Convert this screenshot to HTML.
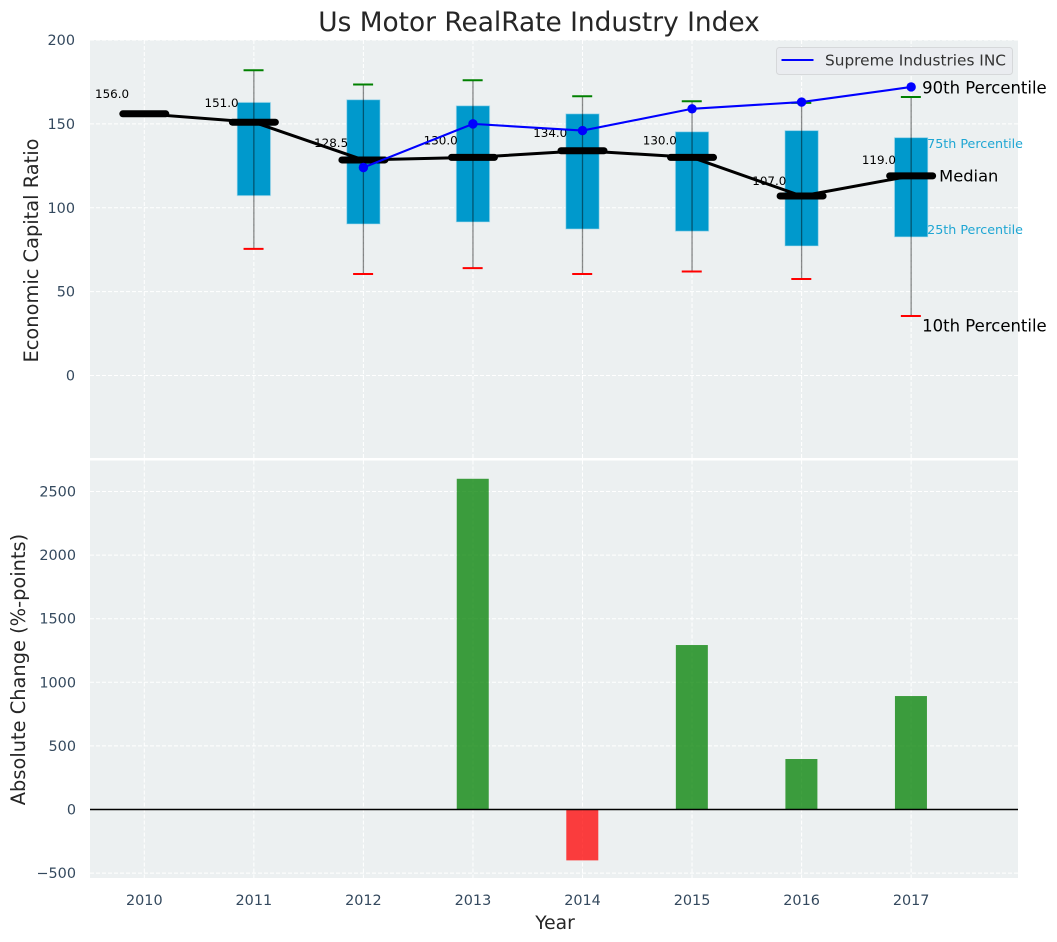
<!DOCTYPE html>
<html lang="en">
<head>
<meta charset="utf-8">
<title>Us Motor RealRate Industry Index</title>
<style>
html,body{margin:0;padding:0;background:#fff;width:1057px;height:942px;overflow:hidden}
svg{display:block;font-family:"DejaVu Sans","Liberation Sans",sans-serif}
</style>
</head>
<body>
<svg id="chart" xmlns="http://www.w3.org/2000/svg" width="1057" height="942" viewBox="0 0 1057 942">
  <rect x="90" y="40" width="928" height="418" fill="#ecf0f1"/>
  <rect x="90" y="460.5" width="928" height="417.5" fill="#ecf0f1"/>
  <g id="grid"></g>
  <g id="boxes"></g>
  <g id="lines"></g>
  <g id="bars"></g>
  <g id="ticks"></g>
  <text x="539" y="31" text-anchor="middle" font-size="26.4px" fill="#262626">Us Motor RealRate Industry Index</text>
  <text transform="translate(38,250.5) rotate(-90)" text-anchor="middle" font-size="19.4px" fill="#262626">Economic Capital Ratio</text>
  <text transform="translate(25,669.5) rotate(-90)" text-anchor="middle" font-size="19.4px" fill="#262626">Absolute Change (%-points)</text>
  <text x="555" y="929" text-anchor="middle" font-size="18.7px" fill="#262626">Year</text>
  <g>
    <rect x="776.5" y="47.5" width="236" height="27" rx="3" fill="#eaecf0" stroke="#d6d8da" stroke-width="1"/>
    <line x1="781.5" y1="60" x2="813.5" y2="60" stroke="#0000ff" stroke-width="2"/>
    <text x="825" y="65.5" font-size="15.3px" fill="#333333" textLength="181" lengthAdjust="spacingAndGlyphs">Supreme Industries INC</text>
  </g>
  <g id="annotations"></g>
</svg>
<script>
var years = [2010, 2011, 2012, 2013, 2014, 2015, 2016, 2017];
var median = [156, 151, 128.5, 130, 134, 130, 107, 119];
var p90 = [null, 182, 173.5, 176, 166.5, 163.5, 162.5, 166];
var p75 = [null, 162.8, 164.4, 160.8, 156, 145.3, 146, 141.8];
var p25 = [null, 107.2, 90.3, 91.5, 87.3, 86, 77.2, 82.6];
var p10 = [null, 75.5, 60.5, 64, 60.5, 62, 57.5, 35.5];
var company = [null, null, 124, 150, 146, 159, 163, 172];
var change = [null, null, null, 2600, -400, 1293, 397, 892];
var topTicks = [0, 50, 100, 150, 200];
var bottomTicks = [-500, 0, 500, 1000, 1500, 2000, 2500];

var NS = 'http://www.w3.org/2000/svg';
function xS(v) { return 144.3 + (v - 2010) * 109.55; }
function yT(v) { return 375.5 - v * 1.6775; }
function yB(v) { return 809.5 - v * 0.1272; }
function mk(parent, tag, attrs, text) {
  var el = document.createElementNS(NS, tag);
  for (var k in attrs) el.setAttribute(k, attrs[k]);
  if (text !== undefined) el.textContent = text;
  document.getElementById(parent).appendChild(el);
  return el;
}
var e, i;
var gridAttrs = { stroke: '#ffffff', 'stroke-width': 1, 'stroke-dasharray': '4 2', fill: 'none' };
function gridLine(x1, y1, x2, y2, name) {
  var a = { x1: x1, y1: y1, x2: x2, y2: y2 };
  for (var k in gridAttrs) a[k] = gridAttrs[k];
  var g = mk('grid', 'line', a);
  
  
}
years.forEach(function (yr) {
  gridLine(xS(yr), 40, xS(yr), 458, 'top-vertical-gridline');
  gridLine(xS(yr), 460.5, xS(yr), 878, 'bottom-vertical-gridline');
  var t = mk('ticks', 'text', { x: xS(yr), y: 905, 'text-anchor': 'middle', 'font-size': '14.4px', fill: '#34495e' }, String(yr));
  
  
});
topTicks.forEach(function (v) {
  gridLine(90, yT(v), 1018, yT(v), 'top-horizontal-gridline');
  var t = mk('ticks', 'text', { x: 75, y: yT(v) + 5, 'text-anchor': 'end', 'font-size': '14.4px', fill: '#34495e' }, String(v));
  
  
});
bottomTicks.forEach(function (v) {
  gridLine(90, yB(v), 1018, yB(v), 'bottom-horizontal-gridline');
  var t = mk('ticks', 'text', { x: 76, y: yB(v) + 5, 'text-anchor': 'end', 'font-size': '14.4px', fill: '#34495e' }, String(v).replace('-', '\u2212'));
  
  
});

// boxes and whiskers
years.forEach(function (yr, idx) {
  if (p75[idx] === null) return;
  var cx = xS(yr);
  var b = mk('boxes', 'rect', { x: cx - 16.7, y: yT(p75[idx]), width: 33.4, height: yT(p25[idx]) - yT(p75[idx]), fill: '#0099cc', stroke: '#b5e0ee', 'stroke-opacity': 0.6, 'stroke-width': 1 });
  
  
  var w = mk('boxes', 'line', { x1: cx, y1: yT(p90[idx]), x2: cx, y2: yT(p10[idx]), stroke: '#000000', 'stroke-opacity': 0.45, 'stroke-width': 1.3 });
  
  
  var c1 = mk('boxes', 'line', { x1: cx - 10.3, y1: yT(p90[idx]), x2: cx + 9.7, y2: yT(p90[idx]), stroke: '#008000', 'stroke-width': 2 });
  
  
  var c2 = mk('boxes', 'line', { x1: cx - 10.3, y1: yT(p10[idx]), x2: cx + 9.7, y2: yT(p10[idx]), stroke: '#ff0000', 'stroke-width': 2 });
  
  
});

// median line
e = mk('lines', 'polyline', { points: years.map(function (yr, idx) { return xS(yr) + ',' + yT(median[idx]); }).join(' '), fill: 'none', stroke: '#000000', 'stroke-width': 3, 'stroke-linejoin': 'round' });


years.forEach(function (yr, idx) {
  var m = mk('lines', 'line', { x1: xS(yr) - 21.5, y1: yT(median[idx]), x2: xS(yr) + 21.5, y2: yT(median[idx]), stroke: '#000000', 'stroke-width': 7, 'stroke-linecap': 'round' });
  
  
  var t = mk('lines', 'text', { x: xS(yr - 0.45), y: yT(median[idx] * 1.06), 'font-size': '11.9px', fill: '#000000' }, median[idx].toFixed(1));
  
  
});

// company line
var pts = [];
years.forEach(function (yr, idx) { if (company[idx] !== null) pts.push(xS(yr) + ',' + yT(company[idx])); });
e = mk('lines', 'polyline', { points: pts.join(' '), fill: 'none', stroke: '#0000ff', 'stroke-width': 2.1 });


years.forEach(function (yr, idx) {
  if (company[idx] === null) return;
  var d = mk('lines', 'circle', { cx: xS(yr), cy: yT(company[idx]), r: 4.7, fill: '#0000ff' });
  
  
});

// bars
years.forEach(function (yr, idx) {
  if (change[idx] === null) return;
  var v = change[idx];
  var top = Math.min(yB(v), yB(0));
  var col = v >= 0 ? '#008000' : '#ff0000';
  var r = mk('bars', 'rect', { x: xS(yr) - 16.2, y: top, width: 32, height: Math.abs(yB(v) - yB(0)), fill: col, 'fill-opacity': 0.75 });
  
  
});
e = mk('bars', 'line', { x1: 90, y1: yB(0), x2: 1018, y2: yB(0), stroke: '#000000', 'stroke-width': 1.4 });



// annotations next to the last year
var last = years.length - 1;
var lx = xS(years[last]);
e = mk('annotations', 'text', { x: lx + 11, y: yT(company[last]) + 6.5, 'font-size': '16.5px', fill: '#000000' }, '90th Percentile');


e = mk('annotations', 'text', { x: lx + 11, y: yT(p10[last]) + 15.5, 'font-size': '16.5px', fill: '#000000' }, '10th Percentile');


e = mk('annotations', 'text', { x: lx + 28, y: yT(median[last]) + 5.5, 'font-size': '16.3px', fill: '#000000' }, 'Median');


e = mk('annotations', 'text', { x: lx + 16, y: yT(p75[last]) + 10.5, 'font-size': '12.7px', fill: '#1fa6d3' }, '75th Percentile');


e = mk('annotations', 'text', { x: lx + 16, y: yT(p25[last]) - 3, 'font-size': '12.7px', fill: '#1fa6d3' }, '25th Percentile');


</script>
</body>
</html>
